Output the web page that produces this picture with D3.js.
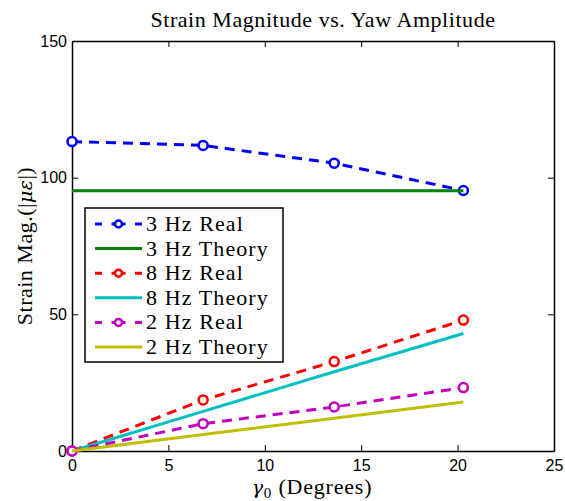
<!DOCTYPE html>
<html>
<head>
<meta charset="utf-8">
<script src="https://cdn.jsdelivr.net/npm/d3@7"></script>
<style>
  body { margin: 0; background: #fff; }
  .tick text { font-family: "Liberation Sans", Arial, sans-serif; font-size: 16px; }
  .lbl { font-family: "Liberation Serif", "DejaVu Serif", serif; fill: #000; }
  .math { font-family: "DejaVu Serif", serif; font-style: italic; }
</style>
</head>
<body>
<div id="chart"></div>
<script>
const gammaReal = [0, 6.8, 13.6, 20.3];
const gammaTheory = [0, 6.8, 13.6, 20.3];

const real3 = [113.2, 111.8, 105.3, 95.3];
const theory3 = [95.2, 95.2, 95.2, 95.2];
const real8 = [0, 18.7, 32.7, 47.9];
const theory8 = [0, 14.5, 29.0, 43.0];
const real2 = [0, 10.0, 16.1, 23.2];
const theory2 = [0, 6.0, 12.0, 17.9];

const xTicks = [0, 5, 10, 15, 20, 25];
const yTicks = [0, 50, 100, 150];

const series = [
  { name: "3 Hz Real", xs: gammaReal, ys: real3, color: "#0000ff", dashed: true },
  { name: "3 Hz Theory", xs: gammaTheory, ys: theory3, color: "#008000", dashed: false },
  { name: "8 Hz Real", xs: gammaReal, ys: real8, color: "#ff0000", dashed: true },
  { name: "8 Hz Theory", xs: gammaTheory, ys: theory8, color: "#00bfbf", dashed: false },
  { name: "2 Hz Real", xs: gammaReal, ys: real2, color: "#bf00bf", dashed: true },
  { name: "2 Hz Theory", xs: gammaTheory, ys: theory2, color: "#bfbf00", dashed: false }
];

const margin = { top: 41, right: 11, bottom: 50, left: 72 },
      width = 565 - margin.left - margin.right,
      height = 501 - margin.top - margin.bottom;

const svg = d3.select("#chart")
  .append("svg")
  .attr("width", 565)
  .attr("height", 501);

const g = svg.append("g")
  .attr("transform", `translate(${margin.left},${margin.top})`);

const x = d3.scaleLinear().domain([0, 25]).range([0, width]);
const y = d3.scaleLinear().domain([0, 150]).range([height, 0]);

// axes with inward ticks on all four sides (box style)
g.append("g")
  .attr("transform", `translate(0,${height})`)
  .call(d3.axisBottom(x).tickValues(xTicks).tickSizeInner(-6).tickSizeOuter(0).tickPadding(9));
g.append("g")
  .call(d3.axisTop(x).tickValues(xTicks).tickSizeInner(-6).tickSizeOuter(0).tickFormat(""));
g.append("g")
  .call(d3.axisLeft(y).tickValues(yTicks).tickSizeInner(-6).tickSizeOuter(0).tickPadding(5));
g.append("g")
  .attr("transform", `translate(${width},0)`)
  .call(d3.axisRight(y).tickValues(yTicks).tickSizeInner(-6).tickSizeOuter(0).tickFormat(""));

g.selectAll(".domain").attr("stroke", "#000").attr("stroke-width", 1.5);
g.selectAll(".tick line").attr("stroke", "#000").attr("stroke-width", 1);

const line = d3.line()
  .x(d => x(d[0]))
  .y(d => y(d[1]));

// draw series
series.forEach(s => {
  const pts = s.xs.map((v, i) => [v, s.ys[i]]);
  g.append("path")
    .datum(pts)
    .attr("d", line)
    .attr("fill", "none")
    .attr("stroke", s.color)
    .attr("stroke-width", 3)
    .attr("stroke-dasharray", s.dashed ? "10,7" : null);
  if (s.dashed) {
    g.selectAll(null)
      .data(pts)
      .join("circle")
      .attr("cx", d => x(d[0]))
      .attr("cy", d => y(d[1]))
      .attr("r", 4.5)
      .attr("fill", "#fff")
      .attr("stroke", s.color)
      .attr("stroke-width", 2.5);
  }
});

// legend
const legend = svg.append("g").attr("transform", "translate(85,208)");
legend.append("rect")
  .attr("width", 198)
  .attr("height", 154)
  .attr("fill", "#fff")
  .attr("stroke", "#000")
  .attr("stroke-width", 1.5);

series.forEach((s, i) => {
  const ly = 16 + i * 24.6;
  legend.append("line")
    .attr("x1", 10).attr("x2", 57)
    .attr("y1", ly).attr("y2", ly)
    .attr("stroke", s.color)
    .attr("stroke-width", 3)
    .attr("stroke-dasharray", s.dashed ? "7,9.5,14,9.5,7" : null);
  if (s.dashed) {
    legend.append("circle")
      .attr("cx", 33.5).attr("cy", ly).attr("r", 3.5)
      .attr("fill", "#fff")
      .attr("stroke", s.color)
      .attr("stroke-width", 2.5);
  }
  legend.append("text")
    .attr("class", "lbl")
    .attr("x", 61)
    .attr("y", ly + 7)
    .attr("font-size", "22px")
    .attr("letter-spacing", "1.1px")
    .text(s.name);
});

// title and axis labels
svg.append("text")
  .attr("class", "lbl")
  .attr("x", 323)
  .attr("y", 27)
  .attr("text-anchor", "middle")
  .attr("font-size", "22px")
  .attr("letter-spacing", "0.55px")
  .text("Strain Magnitude vs. Yaw Amplitude");

const xl = svg.append("text")
  .attr("class", "lbl")
  .attr("x", 312)
  .attr("y", 494)
  .attr("text-anchor", "middle")
  .attr("font-size", "22px")
  .attr("letter-spacing", "0.8px");
xl.append("tspan").attr("class", "math").attr("font-size", "19px").text("γ");
xl.append("tspan").attr("font-size", "15px").attr("dy", 4).text("0");
xl.append("tspan").attr("dy", -4).text(" (Degrees)");

const yl = svg.append("text")
  .attr("class", "lbl")
  .attr("transform", "translate(32,246) rotate(-90)")
  .attr("text-anchor", "middle")
  .attr("font-size", "22px")
  .attr("letter-spacing", "0.5px");
yl.append("tspan").text("Strain Mag.(|");
yl.append("tspan").attr("class", "math").attr("font-size", "19px").text("με");
yl.append("tspan").text("|)");
</script>
</body>
</html>
